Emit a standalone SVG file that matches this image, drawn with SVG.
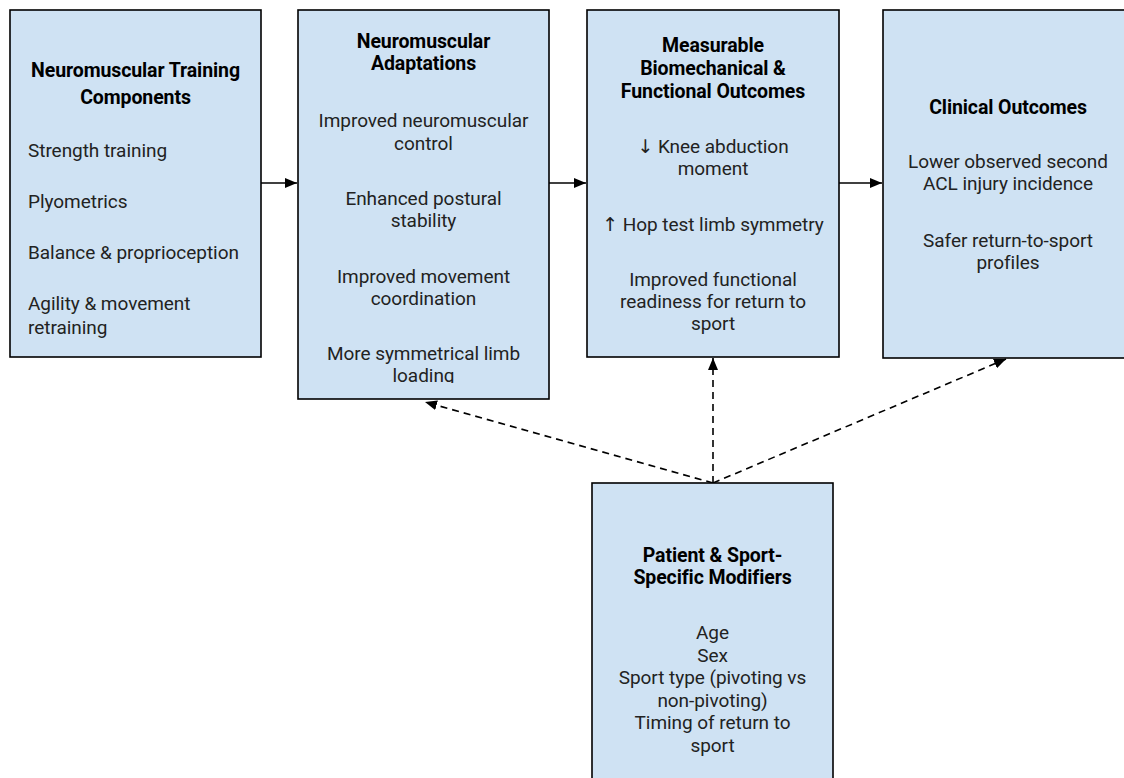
<svg xmlns="http://www.w3.org/2000/svg" width="1124" height="778" viewBox="0 0 1124 778">
<defs>
<style>
.box{fill:#cfe2f3;stroke:#000;stroke-width:1.6}
.t{font-family:Roboto,"Liberation Sans",sans-serif;font-size:19.5px;font-weight:bold;fill:#000;text-anchor:middle;letter-spacing:-0.1px}
.b{font-family:Roboto,"Liberation Sans",sans-serif;font-size:19px;fill:#222;text-anchor:middle;letter-spacing:-0.05px}
.l{text-anchor:start}
.ar{font-family:"DejaVu Sans",sans-serif;fill:#222}
.c{fill:none;stroke:#000;stroke-width:1.6}
.d{stroke-dasharray:7 5}
</style>
<marker id="ah" viewBox="0 0 12 10" refX="12" refY="5" markerWidth="12" markerHeight="10" markerUnits="userSpaceOnUse" orient="auto">
<path d="M0,0 L12,5 L0,10 z" fill="#000"/>
</marker>
<clipPath id="c2"><rect x="298" y="10" width="251" height="373"/></clipPath>
</defs>
<g id="connectors">
<line class="c" x1="261" y1="183" x2="297" y2="183" marker-end="url(#ah)"/>
<line class="c" x1="549" y1="183" x2="586" y2="183" marker-end="url(#ah)"/>
<line class="c" x1="839" y1="183" x2="882" y2="183" marker-end="url(#ah)"/>
<line class="c d" x1="713" y1="483" x2="425" y2="402" marker-end="url(#ah)"/>
<line class="c d" x1="713" y1="483" x2="713" y2="358" marker-end="url(#ah)"/>
<line class="c d" x1="713" y1="483" x2="1006" y2="359" marker-end="url(#ah)"/>
</g>
<g id="n1">
<rect class="box" x="10" y="10" width="251" height="347"/>
<text class="t" x="135.5" y="77">Neuromuscular Training</text>
<text class="t" x="135.5" y="104">Components</text>
<text class="b l" x="28" y="157">Strength training</text>
<text class="b l" x="28" y="208">Plyometrics</text>
<text class="b l" x="28" y="259">Balance &amp; proprioception</text>
<text class="b l" x="28" y="310">Agility &amp; movement</text>
<text class="b l" x="28" y="334">retraining</text>
</g>
<g id="n2">
<rect class="box" x="298" y="10" width="251" height="389"/>
<g clip-path="url(#c2)">
<text class="t" x="423.5" y="48">Neuromuscular</text>
<text class="t" x="423.5" y="70">Adaptations</text>
<text class="b" x="423.5" y="127">Improved neuromuscular</text>
<text class="b" x="423.5" y="150">control</text>
<text class="b" x="423.5" y="205">Enhanced postural</text>
<text class="b" x="423.5" y="227">stability</text>
<text class="b" x="423.5" y="283">Improved movement</text>
<text class="b" x="423.5" y="305">coordination</text>
<text class="b" x="423.5" y="360">More symmetrical limb</text>
<text class="b" x="423.5" y="382">loading</text>
</g>
</g>
<g id="n3">
<rect class="box" x="587" y="10" width="252" height="347"/>
<text class="t" x="713" y="52">Measurable</text>
<text class="t" x="713" y="75">Biomechanical &amp;</text>
<text class="t" x="713" y="98">Functional Outcomes</text>
<text class="b" x="713" y="153"><tspan class="ar">↓</tspan> Knee abduction</text>
<text class="b" x="713" y="175">moment</text>
<text class="b" x="713" y="231"><tspan class="ar">↑</tspan> Hop test limb symmetry</text>
<text class="b" x="713" y="286">Improved functional</text>
<text class="b" x="713" y="308">readiness for return to</text>
<text class="b" x="713" y="330">sport</text>
</g>
<g id="n4">
<rect class="box" x="883" y="10" width="252" height="348"/>
<text class="t" x="1008" y="114">Clinical Outcomes</text>
<text class="b" x="1008" y="168">Lower observed second</text>
<text class="b" x="1008" y="190">ACL injury incidence</text>
<text class="b" x="1008" y="247">Safer return-to-sport</text>
<text class="b" x="1008" y="269">profiles</text>
</g>
<g id="n5">
<rect class="box" x="592" y="483" width="241" height="310"/>
<text class="t" x="712.5" y="562">Patient &amp; Sport-</text>
<text class="t" x="712.5" y="584">Specific Modifiers</text>
<text class="b" x="712.5" y="639">Age</text>
<text class="b" x="712.5" y="662">Sex</text>
<text class="b" x="712.5" y="684">Sport type (pivoting vs</text>
<text class="b" x="712.5" y="707">non-pivoting)</text>
<text class="b" x="712.5" y="729">Timing of return to</text>
<text class="b" x="712.5" y="752">sport</text>
</g>
</svg>
